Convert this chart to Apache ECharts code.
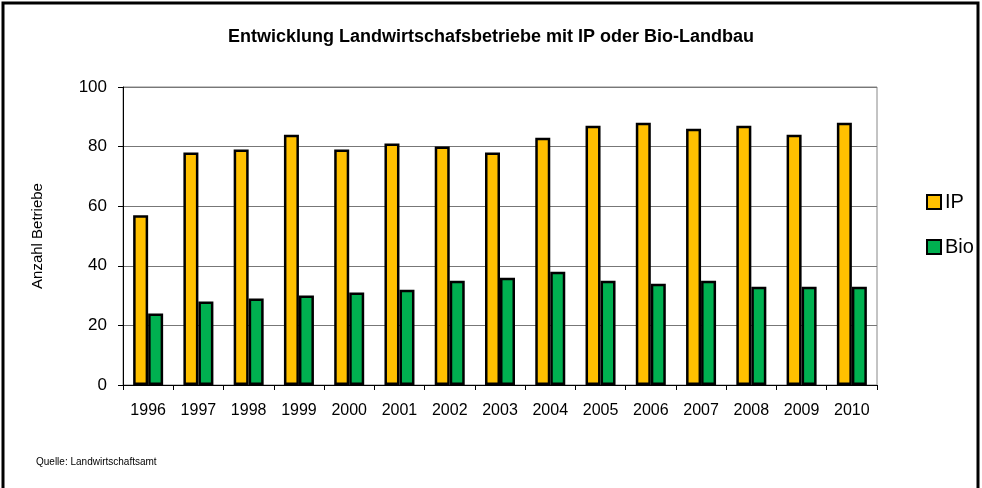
<!DOCTYPE html>
<html>
<head>
<meta charset="utf-8">
<script src="https://cdn.jsdelivr.net/npm/echarts@6/dist/echarts.min.js"></script>
<style>
  html, body { margin: 0; padding: 0; background: #fff; }
  #chart { width: 982px; height: 488px; }
</style>
</head>
<body>
<div id="chart"></div>
<script>
const years = ['1996', '1997', '1998', '1999', '2000', '2001', '2002', '2003', '2004', '2005', '2006', '2007', '2008', '2009', '2010']
const ipValues = [57, 78, 79, 84, 79, 81, 80, 78, 83, 87, 88, 86, 87, 84, 88]
const bioValues = [24, 28, 29, 30, 31, 32, 35, 36, 38, 35, 34, 35, 33, 33, 33]
const yTicks = [0, 20, 40, 60, 80, 100]

const font = '"Liberation Sans", Arial, sans-serif'
const chart = echarts.init(document.getElementById('chart'))
chart.setOption({
  animation: false,
  textStyle: { fontFamily: font },
  title: {
    text: 'Entwicklung Landwirtschafsbetriebe mit IP oder Bio-Landbau',
    left: 'center',
    top: 23,
    textStyle: { fontSize: 18, fontWeight: 'bold', color: '#000', fontFamily: font }
  },
  graphic: [{
    type: 'rect',
    shape: { x: 3, y: 3, width: 975, height: 490 },
    style: { fill: 'none', stroke: '#000', lineWidth: 3 }
  }, {
    type: 'text',
    left: 36,
    top: 457,
    style: { text: 'Quelle: Landwirtschaftsamt', fontSize: 10, fill: '#000', fontFamily: font }
  }],
  legend: {
    orient: 'vertical',
    left: 921,
    top: 187,
    icon: 'rect',
    itemWidth: 14,
    itemHeight: 14,
    itemGap: 25,
    textStyle: { fontSize: 20, color: '#000', padding: [0, 0, 0, -1] },
    data: ['IP', 'Bio']
  },
  grid: {
    left: 123,
    top: 87,
    width: 754,
    height: 298,
    show: true,
    borderColor: '#888',
    borderWidth: 1
  },
  xAxis: {
    type: 'category',
    data: years,
    axisLine: { lineStyle: { color: '#000', width: 1 } },
    axisTick: { show: true, lineStyle: { color: '#000' }, length: 5 },
    axisLabel: { fontSize: 16, color: '#000', margin: 18 }
  },
  yAxis: {
    type: 'value',
    min: yTicks[0],
    max: yTicks[yTicks.length - 1],
    interval: 20,
    name: 'Anzahl Betriebe',
    nameLocation: 'middle',
    nameGap: 78,
    nameTextStyle: { fontSize: 15, color: '#000' },
    axisLine: { show: true, lineStyle: { color: '#000' } },
    axisTick: { show: true, length: 5, lineStyle: { color: '#000' } },
    axisLabel: { fontSize: 17, color: '#000', margin: 16 },
    splitLine: { lineStyle: { color: '#777', width: 1 } }
  },
  series: [{
    name: 'IP',
    type: 'bar',
    data: ipValues,
    barWidth: 15,
    barGap: '0%',
    itemStyle: { color: '#FFC000', borderColor: '#000', borderWidth: 2.5 }
  }, {
    name: 'Bio',
    type: 'bar',
    data: bioValues,
    barWidth: 15,
    itemStyle: { color: '#00B050', borderColor: '#000', borderWidth: 2.5 }
  }]
})
</script>
</body>
</html>
